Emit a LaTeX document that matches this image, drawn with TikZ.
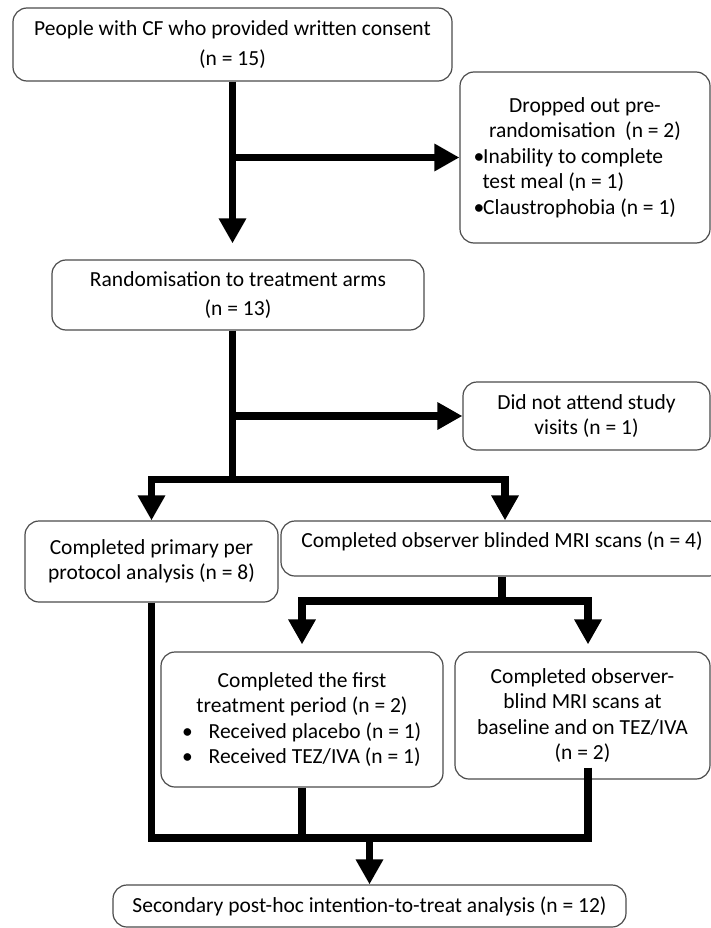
\documentclass[tikz,border=0pt]{standalone}
\usepackage{fontspec}
\setmainfont{Carlito}
\usepackage{tikz}
\usetikzlibrary{arrows.meta,calc}

\begin{document}
\begin{tikzpicture}[x=1pt, y=-1pt, font=\fontsize{21.5}{25.5}\selectfont]
        \tikzstyle{block} = [rectangle, draw=black!70, line width=1.2pt, fill=white, align=center, inner sep=0pt, rounded corners=14pt]
        \tikzstyle{link} = [draw, line width=7.5pt]
        \tikzstyle{line} = [link, -{Triangle[length=25pt, width=26pt]}]
        \useasboundingbox (0,0) rectangle (711,928);

        \node [block, minimum width=439, minimum height=73] (consent) at (232.5,44.5) {People with CF who provided written consent\\[4pt](n = 15)};
        \node [block, minimum width=250, minimum height=171] (dropout) at (585,157.5) {Dropped out pre-\\randomisation\ \ (n = 2)\\
            \makebox[223pt][l]{\textbullet\kern-1pt Inability to complete}\\
            \makebox[223pt][l]{\hspace*{9pt}test meal (n = 1)}\\
            \makebox[223pt][l]{\textbullet\kern-1pt Claustrophobia (n = 1)}};
        \node [block, minimum width=372, minimum height=70] (random) at (238,295) {Randomisation to treatment arms\\[3pt](n = 13)};
        \node [block, minimum width=247, minimum height=68] (notattend) at (586.5,416) {Did not attend study\\visits (n = 1)};
        \node [block, minimum width=253, minimum height=81] (primary) at (151.5,561.5) {Completed primary per\\protocol analysis (n = 8)};
        \node [block, minimum width=442, minimum height=55, text depth=17pt] (blinded) at (502,548.5) {Completed observer blinded MRI scans (n = 4)};
        \node [block, minimum width=282, minimum height=135] (treat) at (302,719.5) {Completed the first\\treatment period (n = 2)\\
            \makebox[240pt][l]{\textbullet\hspace{16pt}Received placebo (n = 1)}\\
            \makebox[240pt][l]{\textbullet\hspace{16pt}Received TEZ/IVA (n = 1)}};
        \node [block, minimum width=255, minimum height=127] (baseline) at (582.5,715.5) {Completed observer-\\blind MRI scans at\\baseline and on TEZ/IVA\\(n = 2)};
        \node [block, minimum width=513, minimum height=42] (secondary) at (369.5,906) {Secondary post-hoc intention-to-treat analysis (n = 12)};

        \coordinate (fork1) at (232.5,479.5);
        \coordinate (fork2) at (502,601);
        \coordinate (merge) at (369.5,838);

        % consent -> randomisation, drop-outs to the side
        \path [line, shorten >=16pt] (consent.south) -- (consent.south |- random.north);
        \path [line] (consent.south |- dropout.west) -- (dropout.west);

        % randomisation -> arms
        \path [link] (consent.south |- random.south) -- (fork1);
        \path [line] (consent.south |- notattend.west) -- (notattend.west);
        \path [line] (fork1) -| (primary.north);
        \path [line] (fork1) -| ($(blinded.north)+(3,0)$);

        % blinded MRI scans split
        \path [link] (blinded.south) -- (fork2);
        \path [line, shorten >=7pt] (fork2) -| (treat.north);
        \path [line, shorten >=7pt] (fork2) -| ($(baseline.north)+(5.5,0)$);

        % all back together
        \path [link] (primary.south) |- (merge);
        \path [link] (treat.south) |- (merge);
        \path [link] ($(baseline.south)+(5.5,-12)$) |- (merge);
        \path [line] (merge) -- (secondary.north);
    \end{tikzpicture}
\end{document}
